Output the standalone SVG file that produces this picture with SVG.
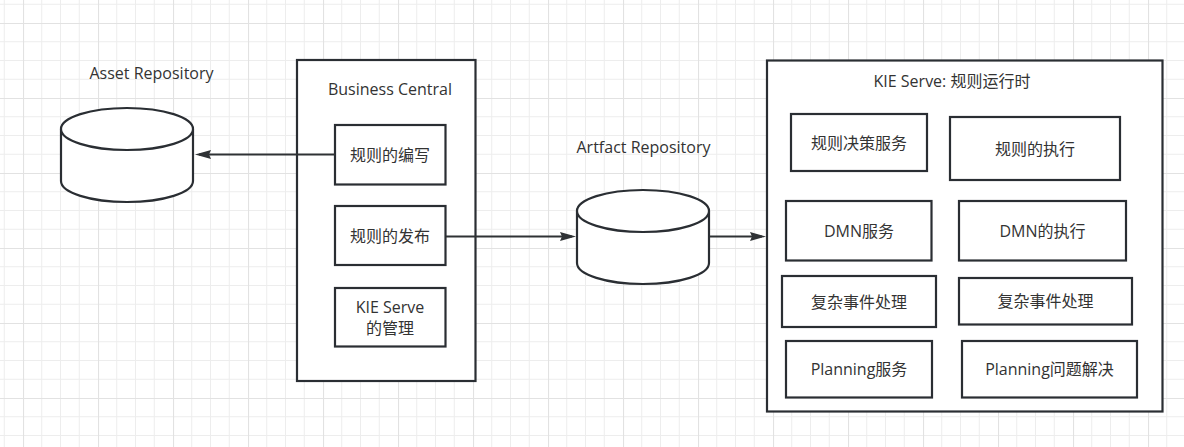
<svg xmlns="http://www.w3.org/2000/svg" width="1184" height="447" viewBox="0 0 1184 447">
<defs>
<pattern id="grid" x="23" y="23" width="75" height="75" patternUnits="userSpaceOnUse">
<path d="M18.75,0V75M37.5,0V75M56.25,0V75M0,18.75H75M0,37.5H75M0,56.25H75" stroke="#ededed" stroke-width="1" fill="none"/>
<path d="M0.5,0V75M0,0.5H75" stroke="#e2e2e2" stroke-width="1.2" fill="none"/>
</pattern>
<marker id="arr" markerUnits="userSpaceOnUse" markerWidth="17" markerHeight="11" refX="12" refY="5" orient="auto" viewBox="0 0 17 10">
<path d="M0,0.5 L16,5 L0,9.5 L2,5 Z" fill="#2f3235"/>
</marker>
<style>
.box{fill:#fff;stroke:#2a2e33;stroke-width:2.2}
.db{fill:#fff;stroke:#2a2e33;stroke-width:2.2}
.t{font-family:"Open Sans","Noto Sans CJK SC",sans-serif;font-size:16px;fill:#333;text-anchor:middle;dominant-baseline:central}
.lbl{font-family:"Open Sans","Noto Sans CJK SC",sans-serif;font-size:16px;fill:#333;text-anchor:middle}
.c{stroke:#2f3235;stroke-width:2.2;fill:none;marker-end:url(#arr)}
</style>
</defs>
<rect width="1184" height="447" fill="#fff"/>
<rect width="1184" height="447" fill="url(#grid)"/>

<g id="asset-repo">
<path class="db" d="M61,129 A66,21 0 0,1 193,129 L193,181 A66,21 0 0,1 61,181 Z"/>
<path class="db" d="M61,129 A66,21 0 0,0 193,129" fill="none"/>
<text class="lbl" x="151.5" y="79">Asset Repository</text>
</g>

<g id="business-central">
<rect class="box" x="297" y="60" width="178.5" height="321"/>
<text class="lbl" x="390" y="95">Business Central</text>
</g>
<g id="bc-write">
<rect class="box" x="335" y="125" width="110.5" height="59.5"/>
<text class="t" x="390" y="155">规则的编写</text>
</g>
<g id="bc-publish">
<rect class="box" x="335" y="206" width="110.5" height="59"/>
<text class="t" x="390" y="236">规则的发布</text>
</g>
<g id="bc-manage">
<rect class="box" x="335" y="288" width="110.5" height="58.5"/>
<text class="t" x="390" y="307">KIE Serve</text>
<text class="t" x="390" y="327.5">的管理</text>
</g>

<g id="artifact-repo">
<path class="db" d="M577,211 A66,21 0 0,1 709,211 L709,263 A66,21 0 0,1 577,263 Z"/>
<path class="db" d="M577,211 A66,21 0 0,0 709,211" fill="none"/>
<text class="lbl" x="643.5" y="153">Artfact Repository</text>
</g>

<g id="kie-serve">
<rect class="box" x="767" y="60.5" width="395.5" height="351"/>
<text class="lbl" x="952" y="87">KIE Serve: 规则运行时</text>
</g>
<g id="k1"><rect class="box" x="791" y="114" width="136" height="57"/><text class="t" x="859" y="142.5">规则决策服务</text></g>
<g id="k2"><rect class="box" x="950" y="117" width="170" height="63"/><text class="t" x="1035" y="148.5">规则的执行</text></g>
<g id="k3"><rect class="box" x="786" y="201" width="145.5" height="59.5"/><text class="t" x="859" y="231">DMN服务</text></g>
<g id="k4"><rect class="box" x="959" y="201" width="167" height="59.5"/><text class="t" x="1042.5" y="231">DMN的执行</text></g>
<g id="k5"><rect class="box" x="782" y="276" width="154" height="51"/><text class="t" x="859" y="301.5">复杂事件处理</text></g>
<g id="k6"><rect class="box" x="959" y="278" width="173" height="46.5"/><text class="t" x="1045.5" y="301">复杂事件处理</text></g>
<g id="k7"><rect class="box" x="786" y="341" width="146" height="56.5"/><text class="t" x="859" y="369">Planning服务</text></g>
<g id="k8"><rect class="box" x="962" y="341" width="175" height="56.5"/><text class="t" x="1049.5" y="369">Planning问题解决</text></g>

<g id="connectors">
<line class="c" x1="335" y1="154.5" x2="199" y2="154.5"/>
<line class="c" x1="446" y1="236.5" x2="572" y2="236.5"/>
<line class="c" x1="710" y1="236.5" x2="762" y2="236.5"/>
</g>
</svg>
